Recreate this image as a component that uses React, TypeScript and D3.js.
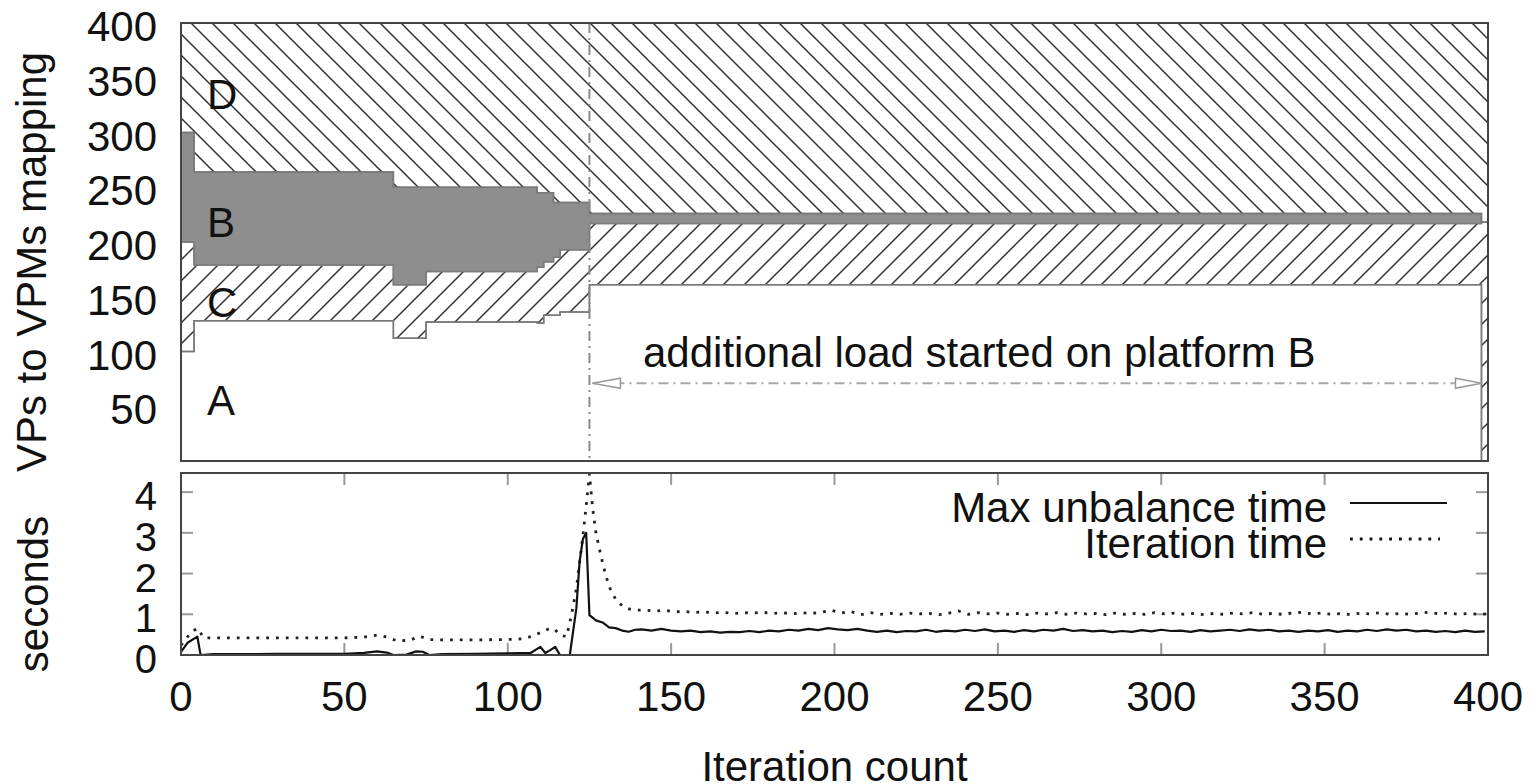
import React, { useRef, useEffect } from "react";
import * as d3 from "d3";

// VPs mapped on each platform, at the iterations where the mapping changes
const mapIter = [0, 4, 65, 75, 109, 111, 114, 116, 125, 398, 400];
const vpsA = [100, 128, 112, 127, 126, 133, 133, 136, 161, 0, 0];
const vpsC = [100, 51, 49, 46, 51, 49, 53, 57, 56, 218, 218];
const vpsB = [100, 85, 89, 77, 68, 63, 50, 43, 9, 0, 0];
const vpsD = [100, 136, 150, 150, 155, 155, 164, 164, 174, 182, 182];

const areaLabels = [
  { name: "D", vps: 335 },
  { name: "B", vps: 218 },
  { name: "C", vps: 145 },
  { name: "A", vps: 56 },
];

// [iteration, seconds]
const maxUnbalance: [number, number][] = [
  [0, 0.08], [2, 0.3], [5, 0.45], [6, 0], [10, 0.02], [20, 0.02], [30, 0.03], [40, 0.03], [50, 0.03],
  [56, 0.05], [60, 0.09], [63, 0.06], [65, 0], [69, 0.01], [72, 0.09], [74, 0.08], [76, 0], [80, 0.02],
  [90, 0.03], [100, 0.04], [107, 0.05], [109, 0.15], [110, 0.2], [111.5, 0.05], [113, 0.12], [114.5, 0.2],
  [116, 0], [119, 0], [121, 1.15], [122, 2.3], [123, 2.85], [124, 3.0], [125, 0.98], [127, 0.85],
  [129, 0.8], [131, 0.68], [133, 0.66], [135, 0.6], [137, 0.57], [139, 0.62],
  [141, 0.63], [144, 0.6], [147, 0.64], [150, 0.6], [153, 0.58], [156, 0.6], [159, 0.56], [162, 0.58],
  [165, 0.55], [168, 0.57], [171, 0.56], [174, 0.59], [177, 0.56], [180, 0.6], [183, 0.58], [186, 0.62],
  [189, 0.6], [192, 0.64], [195, 0.61], [198, 0.66], [201, 0.63], [204, 0.61], [207, 0.64], [210, 0.6],
  [213, 0.57], [216, 0.6], [219, 0.56], [222, 0.59], [225, 0.58], [228, 0.62], [231, 0.57], [234, 0.6],
  [237, 0.58], [240, 0.62], [243, 0.59], [246, 0.63], [249, 0.58], [252, 0.6], [255, 0.57], [258, 0.61],
  [261, 0.58], [264, 0.62], [267, 0.6], [270, 0.64], [273, 0.59], [276, 0.61], [279, 0.58], [282, 0.6],
  [285, 0.56], [288, 0.59], [291, 0.57], [294, 0.61], [297, 0.58], [300, 0.62], [303, 0.59], [306, 0.6],
  [309, 0.57], [312, 0.61], [315, 0.58], [318, 0.6], [321, 0.62], [324, 0.59], [327, 0.63], [330, 0.6],
  [333, 0.62], [336, 0.58], [339, 0.6], [342, 0.57], [345, 0.6], [348, 0.58], [351, 0.61], [354, 0.57],
  [357, 0.6], [360, 0.58], [363, 0.62], [366, 0.59], [369, 0.63], [372, 0.6], [375, 0.62], [378, 0.58],
  [381, 0.6], [384, 0.57], [387, 0.59], [390, 0.56], [393, 0.6], [396, 0.57], [399, 0.58],
];

const iterationTime: [number, number][] = [
  [0, 0.24], [3, 0.55], [5, 0.66], [7, 0.42], [10, 0.42], [20, 0.42], [30, 0.42], [40, 0.42], [50, 0.42],
  [56, 0.44], [60, 0.49], [63, 0.44], [66, 0.35], [70, 0.36], [73, 0.46], [76, 0.38], [80, 0.37],
  [90, 0.37], [100, 0.38], [105, 0.4], [108, 0.48], [110, 0.55], [113, 0.66], [114.5, 0.62], [116, 0.49],
  [118, 0.45], [119.5, 0.98], [121, 1.63], [122, 2.28], [123, 2.93], [124, 3.66], [125, 4.45], [126, 3.59],
  [127, 3.0], [128.5, 2.44], [130, 1.95], [131.5, 1.59], [133.5, 1.3], [136.5, 1.14], [139.5, 1.1],
  [142, 1.1], [145, 1.08], [148, 1.1], [151, 1.06], [154, 1.07], [157, 1.04], [160, 1.06], [163, 1.03],
  [166, 1.05], [169, 1.02], [172, 1.04], [175, 1.03], [178, 1.05], [181, 1.02], [184, 1.04], [187, 1.01],
  [190, 1.04], [193, 1.02], [196, 1.05], [199, 1.1], [202, 1.03], [205, 1.07], [208, 0.99], [211, 1.04],
  [214, 1.0], [217, 1.02], [220, 1.0], [223, 1.03], [226, 1.01], [229, 1.02], [232, 0.99], [235, 1.03],
  [238, 1.08], [241, 1.0], [244, 1.04], [247, 1.01], [250, 1.03], [253, 1.0], [256, 1.02], [259, 0.99],
  [262, 1.03], [265, 1.01], [268, 1.04], [271, 1.0], [274, 1.03], [277, 1.01], [280, 1.02], [283, 0.99],
  [286, 1.03], [289, 1.0], [292, 1.02], [295, 1.0], [298, 1.04], [301, 1.01], [304, 1.03], [307, 1.0],
  [310, 1.02], [313, 0.99], [316, 1.02], [319, 1.0], [322, 1.03], [325, 1.01], [328, 1.04], [331, 1.0],
  [334, 1.02], [337, 1.0], [340, 1.03], [343, 1.05], [346, 1.01], [349, 1.03], [352, 1.0], [355, 1.02],
  [358, 0.99], [361, 1.03], [364, 1.01], [367, 1.04], [370, 1.0], [373, 1.02], [376, 1.0], [379, 1.03],
  [382, 1.05], [385, 1.01], [388, 1.03], [391, 1.0], [394, 1.02], [397, 1.0], [400, 1.01],
];

const xTicks = [0, 50, 100, 150, 200, 250, 300, 350, 400];
const vpTicks = [50, 100, 150, 200, 250, 300, 350, 400];
const secTicks = [0, 1, 2, 3, 4];

const loadStart = 125;
const loadEnd = 398;
const arrowVps = 71;
const loadText = "additional load started on platform B";

const FONT = "'Liberation Sans', Arial, Helvetica, sans-serif";
const FS = 42;

function App() {
  const svgRef = useRef<SVGSVGElement>(null);

  useEffect(() => {
    const svg = d3.select(svgRef.current);
    svg.selectAll("*").remove();

    const left = 181, right = 1488;
    const x = d3.scaleLinear().domain([0, 400]).range([left, right]);
    const yTop = d3.scaleLinear().domain([0, 400]).range([461, 23]);
    const yBot = d3.scaleLinear().domain([0, 4.47]).range([655, 473]);

    const defs = svg.append("defs");
    // hatch "/" for C
    const pc = defs.append("pattern").attr("id", "hatchC")
      .attr("patternUnits", "userSpaceOnUse").attr("width", 21).attr("height", 21);
    pc.append("path").attr("d", "M-3,24 L24,-3 M-8,8 L8,-8 M13,29 L29,13")
      .attr("stroke", "#333").attr("stroke-width", 1.5);
    // hatch "\" for D
    const pd = defs.append("pattern").attr("id", "hatchD")
      .attr("patternUnits", "userSpaceOnUse").attr("width", 21).attr("height", 21);
    pd.append("path").attr("d", "M-3,-3 L24,24 M-8,13 L8,29 M13,-8 L29,8")
      .attr("stroke", "#333").attr("stroke-width", 1.5);

    defs.append("clipPath").attr("id", "clipTop")
      .append("rect").attr("x", left).attr("y", 23).attr("width", right - left).attr("height", 438);
    defs.append("clipPath").attr("id", "clipBot")
      .append("rect").attr("x", left).attr("y", 473).attr("width", right - left).attr("height", 182);

    // ---- top panel: stacked VP mapping
    const rows = mapIter.map((it, i) => ({ it, A: vpsA[i], C: vpsC[i], B: vpsB[i], D: vpsD[i] }));
    const series = d3.stack<any>().keys(["A", "C", "B", "D"])(rows);
    const fills: Record<string, string> = { A: "#ffffff", C: "url(#hatchC)", B: "#8e8e8e", D: "url(#hatchD)" };

    const area = d3.area<any>()
      .x((d) => x(d.data.it))
      .y0((d) => yTop(d[0]))
      .y1((d) => yTop(d[1]))
      .curve(d3.curveStepAfter);

    const gTop = svg.append("g").attr("clip-path", "url(#clipTop)");
    gTop.selectAll(".layer")
      .data(series)
      .join("path")
      .attr("class", "layer")
      .attr("d", area)
      .attr("fill", (s) => fills[s.key])
      .attr("stroke", "#7a7a7a")
      .attr("stroke-width", 1.5);

    // vertical dash-dot marker
    gTop.append("line")
      .attr("x1", x(loadStart)).attr("x2", x(loadStart))
      .attr("y1", yTop(400)).attr("y2", yTop(0))
      .attr("stroke", "#8a8a8a").attr("stroke-width", 2)
      .attr("stroke-dasharray", "10 5 2 5");

    // arrow
    const ay = yTop(arrowVps);
    const ax1 = x(loadStart) + 3, ax2 = x(loadEnd);
    svg.append("line")
      .attr("x1", ax1).attr("x2", ax2).attr("y1", ay).attr("y2", ay)
      .attr("stroke", "#a8a8a8").attr("stroke-width", 2)
      .attr("stroke-dasharray", "10 5 2 5");
    svg.append("path")
      .attr("d", `M${ax1},${ay} L${ax1 + 28},${ay - 5} L${ax1 + 28},${ay + 5} Z M${ax2},${ay} L${ax2 - 26},${ay - 5} L${ax2 - 26},${ay + 5} Z`)
      .attr("fill", "white").attr("stroke", "#9a9a9a").attr("stroke-width", 1.5);

    svg.append("text")
      .attr("x", 643).attr("y", 367)
      .attr("font-size", FS).attr("font-family", FONT).attr("fill", "#111")
      .text(loadText);

    svg.selectAll(".alabel")
      .data(areaLabels)
      .join("text")
      .attr("class", "alabel")
      .attr("x", 207)
      .attr("y", (d) => yTop(d.vps) + 15)
      .attr("font-size", FS).attr("font-family", FONT).attr("fill", "#111")
      .text((d) => d.name);

    svg.append("rect")
      .attr("x", left).attr("y", 23).attr("width", right - left).attr("height", 438)
      .attr("fill", "none").attr("stroke", "#444").attr("stroke-width", 2);

    svg.selectAll(".vptick")
      .data(vpTicks)
      .join("text")
      .attr("class", "vptick")
      .attr("x", 157).attr("y", (d) => yTop(d) + 18)
      .attr("text-anchor", "end")
      .attr("font-size", FS).attr("font-family", FONT).attr("fill", "#111")
      .text((d) => d);

    svg.append("text")
      .attr("transform", `translate(46,${(yTop(0) + yTop(400)) / 2 + 20}) rotate(-90)`)
      .attr("text-anchor", "middle")
      .attr("font-size", FS).attr("font-family", FONT).attr("fill", "#111")
      .text("VPs to VPMs mapping");

    // ---- bottom panel: times
    const tickCol = "#9a9a9a";
    const gb = svg.append("g");
    xTicks.slice(1, -1).forEach((t) => {
      gb.append("line").attr("x1", x(t)).attr("x2", x(t)).attr("y1", 655).attr("y2", 643)
        .attr("stroke", tickCol).attr("stroke-width", 2);
      gb.append("line").attr("x1", x(t)).attr("x2", x(t)).attr("y1", 473).attr("y2", 485)
        .attr("stroke", tickCol).attr("stroke-width", 2);
    });
    secTicks.slice(1).forEach((t) => {
      gb.append("line").attr("x1", left).attr("x2", left + 12).attr("y1", yBot(t)).attr("y2", yBot(t))
        .attr("stroke", tickCol).attr("stroke-width", 2);
      gb.append("line").attr("x1", right).attr("x2", right - 12).attr("y1", yBot(t)).attr("y2", yBot(t))
        .attr("stroke", tickCol).attr("stroke-width", 2);
    });

    const line = d3.line<[number, number]>()
      .x((d) => x(d[0]))
      .y((d) => yBot(d[1]));

    const gLines = svg.append("g").attr("clip-path", "url(#clipBot)");
    gLines.append("path")
      .attr("d", line(iterationTime))
      .attr("fill", "none").attr("stroke", "#222").attr("stroke-width", 2.8)
      .attr("stroke-dasharray", "2.8 7");
    gLines.append("path")
      .attr("d", line(maxUnbalance))
      .attr("fill", "none").attr("stroke", "#111").attr("stroke-width", 2.2)
      .attr("stroke-linejoin", "round");

    svg.append("rect")
      .attr("x", left).attr("y", 473).attr("width", right - left).attr("height", 182)
      .attr("fill", "none").attr("stroke", "#444").attr("stroke-width", 2);

    // legend
    const legend = [
      { label: "Max unbalance time", dash: null, y: 503, x2: 1447 },
      { label: "Iteration time", dash: "2.8 7", y: 539, x2: 1440 },
    ];
    legend.forEach((l) => {
      svg.append("text")
        .attr("x", 1327).attr("y", l.y + 19)
        .attr("text-anchor", "end")
        .attr("font-size", FS).attr("font-family", FONT).attr("fill", "#111")
        .text(l.label);
      svg.append("line")
        .attr("x1", 1350).attr("x2", l.x2).attr("y1", l.y).attr("y2", l.y)
        .attr("stroke", "#111").attr("stroke-width", l.dash ? 2.8 : 2.2)
        .attr("stroke-dasharray", l.dash);
    });

    svg.selectAll(".sectick")
      .data(secTicks)
      .join("text")
      .attr("class", "sectick")
      .attr("x", 157).attr("y", (d) => yBot(d) + 18)
      .attr("text-anchor", "end")
      .attr("font-size", 40).attr("font-family", FONT).attr("fill", "#111")
      .text((d) => d);

    svg.selectAll(".xtick")
      .data(xTicks)
      .join("text")
      .attr("class", "xtick")
      .attr("x", (d) => x(d)).attr("y", 711)
      .attr("text-anchor", "middle")
      .attr("font-size", FS).attr("font-family", FONT).attr("fill", "#111")
      .text((d) => d);

    svg.append("text")
      .attr("transform", `translate(48,594) rotate(-90)`)
      .attr("text-anchor", "middle")
      .attr("font-size", FS).attr("font-family", FONT).attr("fill", "#111")
      .text("seconds");

    svg.append("text")
      .attr("x", (left + right) / 2).attr("y", 781)
      .attr("text-anchor", "middle")
      .attr("font-size", FS).attr("font-family", FONT).attr("fill", "#111")
      .text("Iteration count");
  }, []);

  return (
    <svg
      ref={svgRef}
      width={1538}
      height={784}
      style={{ position: "absolute", left: 0, top: 0, background: "white" }}
    />
  );
}

export default App;
